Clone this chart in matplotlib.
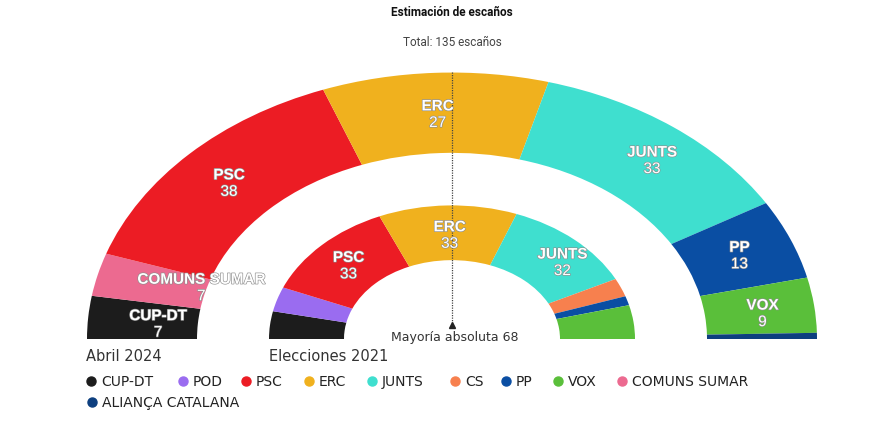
import matplotlib.pyplot as plt
import matplotlib.patches as patches
import matplotlib.patheffects as pe
import numpy as np

# Estimación abril 2024 (anillo exterior)
parties_2024 = ['CUP-DT', 'COMUNS SUMAR', 'PSC', 'ERC', 'JUNTS', 'PP', 'VOX', 'ALIANÇA CATALANA']
seats_2024 = [7, 7, 38, 27, 33, 13, 9, 1]
labels_2024 = ['CUP-DT', 'COMUNS SUMAR', 'PSC', 'ERC', 'JUNTS', 'PP', 'VOX', None]

# Elecciones 2021 (anillo interior)
parties_2021 = ['CUP-DT', 'POD', 'PSC', 'ERC', 'JUNTS', 'CS', 'PP', 'VOX']
seats_2021 = [9, 8, 33, 33, 32, 6, 3, 11]
labels_2021 = [None, None, 'PSC', 'ERC', 'JUNTS', None, None, None]

legend_order = ['CUP-DT', 'POD', 'PSC', 'ERC', 'JUNTS', 'CS', 'PP', 'VOX', 'COMUNS SUMAR', 'ALIANÇA CATALANA']
colors = {
    'CUP-DT': '#1c1c1c',
    'POD': '#9a6cf0',
    'PSC': '#ec1c24',
    'ERC': '#f0b11e',
    'JUNTS': '#3fdfcf',
    'CS': '#f7804e',
    'PP': '#0a4ea3',
    'VOX': '#5abf3a',
    'COMUNS SUMAR': '#ec6a90',
    'ALIANÇA CATALANA': '#0d3f7f',
}
total_seats = 135
majority = 68

W, H = 893, 427
CX, CY = 452, 340      # centre of the hemicycle in pixels
YS = 0.73              # vertical squash of the original picture

BODY = ['DejaVu Sans']
NARROW = ['Roboto', 'DejaVu Sans']
LABEL = ['Liberation Sans', 'DejaVu Sans']

fig = plt.figure(figsize=(W / 100, H / 100), dpi=100)
ax = fig.add_axes([0, 0, 1, 1])
ax.set_xlim(-CX, W - CX)
ax.set_ylim((CY - H) / YS, CY / YS)
ax.axis('off')


def px(x, y):
    # pixel position -> data coords
    return x - CX, (CY - y) / YS


def draw_ring(parties, seats, labels, r_out, r_in, nudge):
    start = 0
    for party, n, lab in zip(parties, seats, labels):
        a1 = 180 - start / total_seats * 180
        a0 = 180 - (start + n) / total_seats * 180
        ax.add_patch(patches.Wedge((0, 0), r_out, a0, a1, width=r_out - r_in,
                                   facecolor=colors[party], edgecolor='none'))
        if lab:
            mid = np.radians((a0 + a1) / 2)
            r = (r_out + r_in) / 2
            dx, dy = nudge.get(lab, (0, 0))
            x = r * np.cos(mid) + dx
            y = r * np.sin(mid) - (dy + 2) / YS
            stroke = [pe.withStroke(linewidth=0.9, foreground='#8c8c8c')]
            ax.text(x, y + 8.5 / YS, lab, ha='center', va='center', color='white',
                    fontsize=11, fontweight='bold', family=LABEL, path_effects=stroke)
            ax.text(x, y - 8 / YS, str(n), ha='center', va='center', color='white',
                    fontsize=11, family=LABEL, path_effects=stroke)
        start += n


draw_ring(parties_2024, seats_2024, labels_2024, 365, 255,
          {'CUP-DT': (15, 2), 'COMUNS SUMAR': (50, 2), 'JUNTS': (12, 0), 'VOX': (3, 2)})
draw_ring(parties_2021, seats_2021, labels_2021, 183, 108, {'JUNTS': (13, 1), 'ERC': (1, 1)})

# majority line
_, y_top = px(CX, 73)
_, y_bot = px(CX, 326)
ax.plot([0, 0], [y_top, y_bot], color='#444444', lw=0.9, ls=(0, (1, 1)))
ax.plot([0], [y_bot], marker='^', color='#222222', markersize=4)
ax.text(*px(CX + 3, 338), f'Mayoría absoluta {majority}', ha='center', va='center',
        fontsize=9, color='#333333', family=BODY)

# titles
ax.text(*px(CX, 12), 'Estimación de escaños', ha='center', va='center',
        fontsize=8.5, fontweight='bold', color='#111111', family=NARROW)
ax.text(*px(CX, 42), f'Total: {total_seats} escaños', ha='center', va='center',
        fontsize=8.5, color='#444444', family=NARROW)

ax.text(*px(86, 357), 'Abril 2024', ha='left', va='center', fontsize=10.5,
        color='#333333', family=BODY)
ax.text(*px(269, 357), 'Elecciones 2021', ha='left', va='center', fontsize=10.5,
        color='#333333', family=BODY)

# legend
legend_x = [91, 183, 246, 309, 372, 455, 506, 558, 622, 92]
legend_y = [382] * 9 + [403]
for party, lx, ly in zip(legend_order, legend_x, legend_y):
    ax.plot(*px(lx, ly), marker='o', color=colors[party], markersize=6.5)
    ax.text(*px(lx + 10, ly), party, ha='left', va='center', fontsize=10,
            color='#222222', family=BODY)

fig.savefig('out.png', dpi=100, facecolor='white')
